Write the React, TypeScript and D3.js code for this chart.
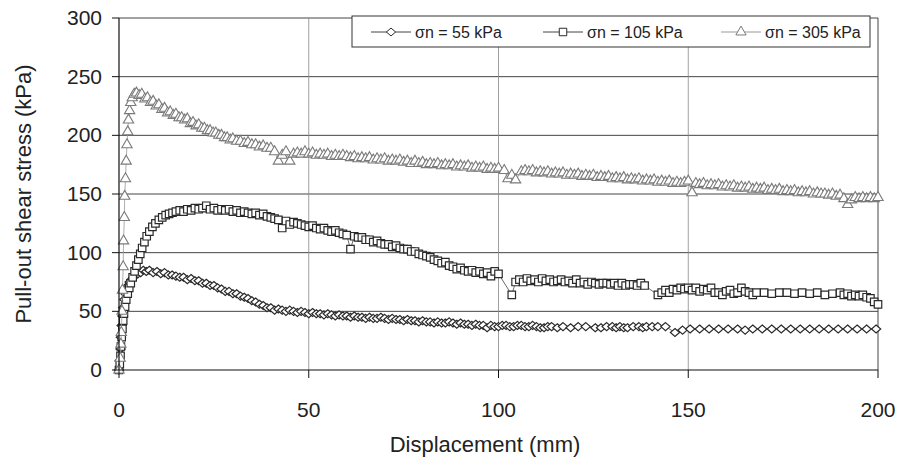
import * as d3 from "d3";

// displacement (mm), shear stress (kPa)
const s55: [number, number][] = [
  [0, 0], [0.2, 8], [0.4, 18], [0.5, 28], [0.7, 38], [0.9, 46], [1.1, 53], [1.4, 60], [1.7, 65], [2, 69],
  [2.4, 72], [2.8, 75], [3.3, 77], [3.8, 79], [4.4, 81], [5, 82], [5.7, 83], [6.4, 85], [7.2, 84], [8, 85],
  [9, 83], [10, 84], [11, 82], [12, 83], [13, 81], [14, 81], [15, 80], [16, 79], [17, 79], [18, 77],
  [19, 78], [20, 76], [21, 76], [22, 74], [23, 74], [24, 72], [25, 72], [26, 70], [27, 69], [28, 67],
  [29, 67], [30, 65], [31, 65], [32, 63], [33, 62], [34, 61], [35, 59], [36, 58], [37, 56], [38, 55],
  [39, 53], [40, 53], [41, 51], [42, 52], [43, 51], [44, 50], [45, 51], [46, 50], [47, 49], [48, 50],
  [49, 49], [50, 48], [51, 49], [52, 48], [53, 48], [54, 47], [55, 48], [56, 47], [57, 46], [58, 47],
  [59, 46], [60, 46], [61, 45], [62, 46], [63, 45], [64, 45], [65, 44], [66, 45], [67, 44], [68, 44],
  [69, 45], [70, 44], [71, 43], [72, 44], [73, 43], [74, 43], [75, 42], [76, 43], [77, 42], [78, 42],
  [79, 41], [80, 42], [81, 41], [82, 41], [83, 40], [84, 41], [85, 40], [86, 40], [87, 41], [88, 40],
  [89, 39], [90, 40], [91, 39], [92, 39], [93, 38], [94, 39], [95, 38], [96, 38], [97, 36], [98, 38],
  [99, 37], [100, 37], [101, 38], [102, 38], [103, 37], [104, 37], [105, 38], [106, 38], [107, 37], [108, 37],
  [109, 38], [110, 37], [111, 36], [112, 36], [113, 37], [114, 37], [115.5, 36], [117, 37], [119, 36], [121, 37],
  [123, 37], [125.5, 36], [127, 36], [128.5, 37], [130, 37], [131, 36], [132, 37], [133, 36], [134, 36], [135.5, 37],
  [137, 37], [138, 36], [139, 37], [140.5, 37], [142, 37], [144, 37], [146.5, 32], [148.5, 34], [150.5, 35], [153, 35],
  [155.5, 35], [158, 35], [160.5, 35], [163, 35], [165, 34], [167, 35], [169.5, 35], [172, 35], [174.5, 35], [177, 35],
  [179.5, 35], [182, 35], [184.5, 35], [187, 35], [189.5, 35], [192, 35], [194.5, 35], [197, 35], [199.5, 35],
];

const s105: [number, number][] = [
  [0, 0], [0.2, 5], [0.4, 12], [0.5, 20], [0.7, 28], [0.9, 35], [1.1, 42], [1.3, 48], [1.6, 54], [1.9, 60],
  [2.3, 65], [2.7, 70], [3.1, 74], [3.6, 79], [4.1, 84], [4.6, 89], [5.1, 94], [5.6, 99], [6.1, 104], [6.7, 109],
  [7.3, 114], [8, 118], [8.8, 122], [9.6, 125], [10.5, 128], [11.4, 130], [12.3, 132], [13.2, 133], [14.1, 134], [15, 135],
  [16, 136], [17, 135], [18, 137], [19, 136], [20, 138], [21, 137], [22, 138], [23, 140], [24, 137], [25, 138],
  [26, 136], [27, 137], [28, 136], [29, 137], [30, 135], [31, 136], [32, 134], [33, 135], [34, 134], [35, 133],
  [36, 134], [37, 132], [38, 133], [39, 131], [40, 130], [41, 129], [42, 128], [43, 121], [44, 127], [45, 124],
  [46, 126], [47, 125], [48, 124], [49, 123], [50, 122], [51, 123], [52, 121], [53, 120], [54, 121], [55, 119],
  [56, 118], [57, 119], [58, 117], [59, 116], [60, 115], [61, 103], [62, 114], [63, 113], [64, 113], [65, 111],
  [66, 111], [67, 109], [68, 110], [69, 108], [70, 107], [71, 107], [72, 105], [73, 106], [74, 104], [75, 103],
  [76, 103], [77, 101], [78, 101], [79, 99], [80, 98], [81, 97], [82, 96], [83, 94], [84, 93], [85, 91],
  [86, 92], [87, 89], [88, 88], [89, 86], [90, 87], [91, 85], [92, 84], [93, 85], [94, 83], [95, 84],
  [96, 82], [97, 83], [98, 80], [99, 84], [100, 82], [103.5, 64], [104.5, 75], [105.5, 77], [106.5, 75], [107.5, 78],
  [108.5, 76], [109.5, 77], [110.5, 75], [111.5, 78], [112.5, 76], [113.5, 77], [114.5, 75], [115.5, 76], [116.5, 77], [117.5, 75],
  [118.5, 76], [119.5, 74], [120.5, 77], [121.5, 74], [122.5, 75], [123.5, 73], [124.5, 75], [125.5, 74], [126.5, 73], [127.5, 74],
  [128.5, 74], [129.5, 73], [130.5, 74], [131.5, 72], [132.5, 74], [133.5, 72], [134.5, 73], [135.5, 73], [136.5, 72], [137.5, 74],
  [138.5, 72], [142, 64], [143, 66], [144, 68], [145, 66], [146, 69], [147, 68], [148, 70], [149, 69], [150, 70],
  [151, 68], [152, 70], [153, 67], [154, 69], [155, 68], [156, 70], [157, 66], [158, 66], [159, 64], [160, 67],
  [161, 68], [162, 65], [163, 66], [164, 70], [165, 67], [166, 66], [167, 64], [168, 66], [170, 66], [172, 65],
  [174, 66], [176, 66], [178, 65], [180, 66], [182, 65], [184, 66], [186, 64], [188, 65], [190, 66], [191, 64],
  [192, 65], [193, 63], [194, 64], [195, 63], [196, 64], [197, 62], [198, 61], [199, 58], [200, 56],
];

const s305: [number, number][] = [
  [0, 0], [0.3, 10], [0.5, 22], [0.6, 32], [0.8, 50], [0.9, 68], [1.1, 88], [1.2, 110], [1.4, 130], [1.5, 148],
  [1.7, 163], [1.9, 178], [2.1, 192], [2.3, 203], [2.5, 213], [2.8, 221], [3.1, 228], [3.5, 232], [4, 235], [4.6, 236],
  [5.3, 234], [6, 235], [6.8, 231], [7.5, 232], [8.3, 228], [9, 229], [9.8, 225], [10.5, 226], [11.3, 222], [12, 223],
  [12.8, 219], [13.5, 220], [14.3, 217], [15, 218], [15.8, 215], [16.5, 215], [17.3, 213], [18, 214], [18.8, 210], [19.5, 211],
  [20.3, 208], [21, 209], [21.8, 206], [22.5, 206], [23.3, 204], [24, 204], [24.8, 202], [25.5, 202], [26.3, 200], [27, 200],
  [27.8, 198], [28.5, 198], [29.3, 196], [30, 197], [31, 195], [32, 195], [33, 193], [34, 194], [35, 192], [36, 192],
  [37, 190], [38, 191], [39, 189], [40, 189], [41, 186], [42, 178], [43, 183], [44, 186], [45, 178], [46, 184],
  [47, 185], [48, 184], [49, 186], [50, 184], [51, 185], [52, 183], [53, 184], [54, 183], [55, 184], [56, 182],
  [57, 183], [58, 182], [59, 183], [60, 182], [61, 181], [62, 182], [63, 180], [64, 181], [65, 180], [66, 181],
  [67, 179], [68, 180], [69, 179], [70, 180], [71, 178], [72, 179], [73, 178], [74, 179], [75, 177], [76, 178],
  [77, 176], [78, 178], [79, 176], [80, 177], [81, 175], [82, 176], [83, 175], [84, 176], [85, 174], [86, 175],
  [87, 174], [88, 175], [89, 173], [90, 174], [91, 173], [92, 174], [93, 172], [94, 173], [95, 172], [96, 173],
  [97, 171], [98, 172], [99, 171], [100, 172], [101.5, 170], [102.5, 163], [103.5, 166], [104.5, 162], [106, 169], [107, 170],
  [108, 169], [109, 170], [110, 168], [111, 169], [112, 168], [113, 169], [114, 167], [115, 168], [116, 167], [117, 168],
  [118, 166], [119, 167], [120, 166], [121, 167], [122, 165], [123, 166], [124, 165], [125, 166], [126, 164], [127, 165],
  [128, 164], [129, 165], [130, 163], [131, 164], [132, 163], [133, 164], [134, 162], [135, 163], [136, 162], [137, 163],
  [138, 161], [139, 162], [140, 161], [141, 162], [142, 160], [143, 161], [144, 160], [145, 161], [146, 159], [147, 160],
  [148, 159], [149, 160], [150, 161], [151, 151], [152, 159], [153, 158], [154, 159], [155, 157], [156, 158], [157, 157],
  [158, 158], [159, 156], [160, 157], [161, 156], [162, 157], [163, 155], [164, 156], [165, 155], [166, 156], [167, 154],
  [168, 155], [169, 154], [170, 155], [171, 153], [172, 154], [173, 153], [174, 154], [175, 152], [176, 153], [177, 152],
  [178, 153], [179, 151], [180, 152], [181, 151], [182, 152], [183, 150], [184, 151], [185, 150], [186, 150], [187, 149],
  [188, 150], [189, 148], [190, 149], [191, 146], [192, 141], [193, 145], [194, 147], [195, 146], [196, 147], [197, 146],
  [198, 147], [199, 146], [200, 147],
];

const xTicks = [0, 50, 100, 150, 200];
const yTicks = [0, 50, 100, 150, 200, 250, 300];
const legendLabels = ["σn = 55 kPa", "σn = 105 kPa", "σn = 305 kPa"];

const W = 902;
const H = 466;
const margin = { left: 119, right: 24, top: 18, bottom: 96 };
const font = "'Liberation Sans', Arial, sans-serif";

const diamond = "M0,-4L4.6,0L0,4L-4.6,0Z";
const square = d3.symbol(d3.symbolSquare, 56)() as string;
const triangle = d3.symbol(d3.symbolTriangle, 46)() as string;

const series = [
  { data: s55, shape: diamond, stroke: "#2a2a2a", line: "#444", sw: 1.2 },
  { data: s105, shape: square, stroke: "#2a2a2a", line: "#444", sw: 1.2 },
  { data: s305, shape: triangle, stroke: "#7a7a7a", line: "#999", sw: 1.1 },
];

export default function App() {
  const x = d3.scaleLinear().domain([0, 200]).range([margin.left, W - margin.right]);
  const y = d3.scaleLinear().domain([0, 300]).range([H - margin.bottom, margin.top]);
  const line = d3.line<[number, number]>().x((d) => x(d[0])).y((d) => y(d[1]));
  const [x0, x1] = x.range();
  const [y0, y1] = y.range();

  const legX = [371, 543, 721];

  return (
    <svg width={W} height={H} style={{ position: "absolute", left: 0, top: 0, background: "#fff" }} fontFamily={font}>
      {/* grid */}
      {yTicks.slice(1).map((t) => (
        <line key={"gy" + t} x1={x0} x2={x1} y1={y(t)} y2={y(t)} stroke="#444" strokeWidth={1} />
      ))}
      {xTicks.slice(1, -1).map((t) => (
        <line key={"gx" + t} x1={x(t)} x2={x(t)} y1={y0} y2={y1} stroke="#888" strokeWidth={0.8} />
      ))}
      <line x1={x1} x2={x1} y1={y0} y2={y1} stroke="#444" />

      {/* series */}
      {series.map((s, i) => (
        <g key={i}>
          <path d={line(s.data) ?? ""} fill="none" stroke={s.line} strokeWidth={0.8} />
          {s.data.map((d, j) => (
            <path key={j} d={s.shape} transform={`translate(${x(d[0])},${y(d[1])})`} fill="#fff" stroke={s.stroke} strokeWidth={s.sw} />
          ))}
        </g>
      ))}

      {/* axes */}
      <line x1={x0} x2={x0} y1={y0} y2={y1} stroke="#111" strokeWidth={1.2} />
      <line x1={x0} x2={x1} y1={y0} y2={y0} stroke="#111" strokeWidth={1.2} />
      {yTicks.map((t) => (
        <g key={"ty" + t}>
          <line x1={x0 - 7} x2={x0} y1={y(t)} y2={y(t)} stroke="#111" />
          <text x={102} y={y(t) + 7} textAnchor="end" fontSize={21} fill="#222">{t}</text>
        </g>
      ))}
      {xTicks.map((t) => (
        <g key={"tx" + t}>
          <line x1={x(t)} x2={x(t)} y1={y0} y2={y0 + 8} stroke="#111" />
          <text x={x(t)} y={417} textAnchor="middle" fontSize={21} fill="#222">{t}</text>
        </g>
      ))}
      <text x={485} y={452} textAnchor="middle" fontSize={22} fill="#222">Displacement (mm)</text>
      <text transform="translate(31,194) rotate(-90)" textAnchor="middle" fontSize={22} fill="#222">
        Pull-out shear stress (kPa)
      </text>

      {/* legend */}
      <rect x={352} y={16} width={518} height={31} fill="#fff" stroke="#333" strokeWidth={1} />
      {series.map((s, i) => (
        <g key={"lg" + i}>
          <line x1={legX[i]} x2={legX[i] + 40} y1={32} y2={32} stroke={s.line} strokeWidth={1} />
          <path d={s.shape} transform={`translate(${legX[i] + 20},32)`} fill="#fff" stroke={s.stroke} />
          <text x={legX[i] + 44} y={38} fontSize={16} fill="#222">{legendLabels[i]}</text>
        </g>
      ))}
    </svg>
  );
}
